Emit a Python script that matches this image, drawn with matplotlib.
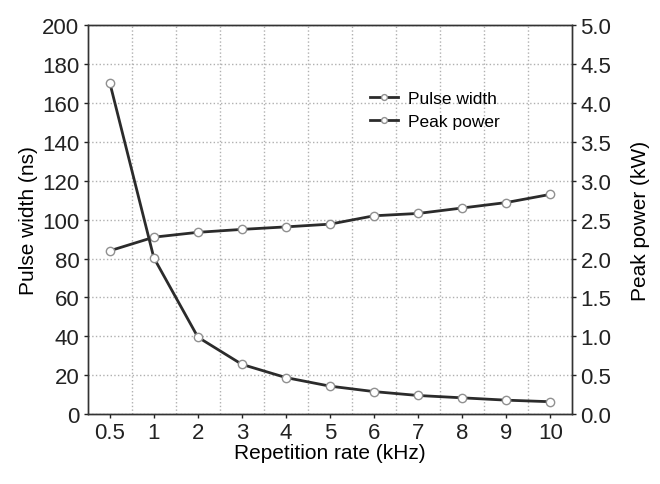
import matplotlib.pyplot as plt
import numpy as np
from matplotlib.ticker import FormatStrFormatter, MultipleLocator

plt.rcParams['font.family'] = ['Liberation Sans', 'DejaVu Sans']

rate_labels = ['0.5', '1', '2', '3', '4', '5', '6', '7', '8', '9', '10']
pulse_width = [84, 91, 93.5, 95, 96.3, 97.7, 102, 103.2, 106, 108.8, 113]
peak_power = [4.26, 2.01, 0.99, 0.64, 0.47, 0.36, 0.29, 0.24, 0.21, 0.18, 0.16]

x = np.arange(len(rate_labels))

fig = plt.figure(figsize=(6.6, 4.85), dpi=100)
ax = fig.add_axes([0.133, 0.144, 0.734, 0.802])
ax2 = ax.twinx()

style = dict(color='#2b2b2b', lw=2, marker='o', markersize=6,
             markerfacecolor='white', markeredgecolor='#909090', markeredgewidth=1)
l1, = ax.plot(x, pulse_width, label='Pulse width', **style)
l2, = ax2.plot(x, peak_power, label='Peak power', **style)

ax.set_xlim(-0.5, 10.5)
ax.set_ylim(0, 200)
ax2.set_ylim(0, 5)
ax.set_xticks(x)
ax.set_xticklabels(rate_labels)
ax.yaxis.set_major_locator(MultipleLocator(20))
ax2.yaxis.set_major_locator(MultipleLocator(0.5))
ax2.yaxis.set_major_formatter(FormatStrFormatter('%.1f'))

# vertical grid sits between categories
ax.set_xticks(x[:-1] + 0.5, minor=True)
ax.grid(which='minor', axis='x', color='#b0b0b0', ls=':', lw=1)
ax.grid(which='major', axis='y', color='#b0b0b0', ls=':', lw=1)
ax.tick_params(which='minor', length=0)

for a in (ax, ax2):
    a.tick_params(labelsize=16, length=3, width=1, pad=3, colors='#222222')
    for s in a.spines.values():
        s.set_color('#333333')
        s.set_linewidth(1)

ax.set_xlabel('Repetition rate (kHz)', fontsize=15, labelpad=0)
ax.set_ylabel('Pulse width (ns)', fontsize=15, labelpad=3)
ax2.set_ylabel('Peak power (kW)', fontsize=15, labelpad=14)

ax.legend([l1, l2], ['Pulse width', 'Peak power'], loc='upper left',
          bbox_to_anchor=(370 / 660, 1 - 92 / 485), bbox_transform=fig.transFigure,
          frameon=False, fontsize=12.5, borderaxespad=0, borderpad=0,
          handlelength=1.6, handletextpad=0.6, labelspacing=0.45, markerscale=0.7)

fig.savefig('out.png', dpi=100)
